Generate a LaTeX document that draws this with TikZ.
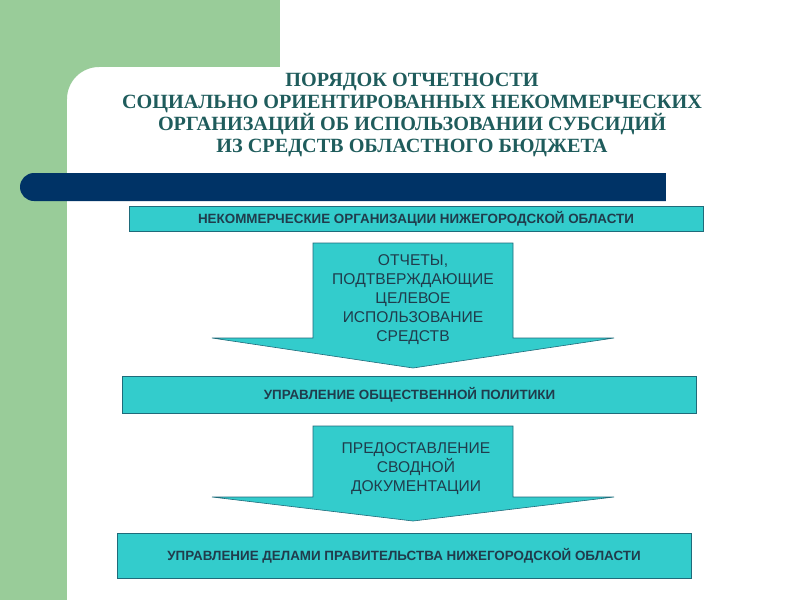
\documentclass[tikz,border=0pt]{standalone}
\usepackage{fontspec}
\setmainfont{Liberation Serif}
\setsansfont{Liberation Sans}
\definecolor{sidegreen}{HTML}{99CC99}
\definecolor{barnavy}{HTML}{003366}
\definecolor{boxcyan}{HTML}{33CCCC}
\definecolor{boxline}{HTML}{1F6B7A}
\definecolor{titleteal}{HTML}{1F5C5C}
\definecolor{textslate}{HTML}{203C4C}
\tikzstyle{box}=[rectangle, fill=boxcyan, draw=boxline, line width=0.8pt, inner sep=0pt, anchor=center, text=textslate, font=\sffamily\bfseries\fontsize{13.4}{16}\selectfont]
\tikzstyle{annot}=[align=center, text=textslate, font=\sffamily\fontsize{15.6}{19}\selectfont]
\tikzstyle{shaft}=[fill=boxcyan, draw=boxline, line width=0.6pt, line join=miter]
\newcommand{\flowarrow}[3]
{
  \draw[shaft] (313,#1) -- (513,#1) -- (513,#2) -- (614,#2) -- (413,#3) -- (212,#2) -- (313,#2) -- cycle;
}

\begin{document}
\begin{tikzpicture}[x=1pt, y=-1pt]
	\useasboundingbox (0,0) rectangle (800,600);
	\fill[white] (0,0) rectangle (800,600);

	% background
	\fill[sidegreen] (0,0) rectangle (280,67);
	\fill[sidegreen] (0,0) rectangle (67,600);
	\fill[sidegreen] (67,67) -- (67,99) .. controls (67,81.3) and (81.3,67) .. (99,67) -- cycle;
	\fill[barnavy, rounded corners=14pt] (20,173) rectangle (680,201);
	\fill[barnavy] (640,173) rectangle (666,201);
	\fill[white] (666,172) rectangle (700,202);

	\node[align=center, text=titleteal, font=\rmfamily\bfseries\fontsize{20.2}{22.3}\selectfont](title) at (412,115)
		{ПОРЯДОК ОТЧЕТНОСТИ\\СОЦИАЛЬНО ОРИЕНТИРОВАННЫХ НЕКОММЕРЧЕСКИХ\\ОРГАНИЗАЦИЙ ОБ ИСПОЛЬЗОВАНИИ СУБСИДИЙ\\ИЗ СРЕДСТВ ОБЛАСТНОГО БЮДЖЕТА};

	\node[box, minimum width=574pt, minimum height=25pt](nko) at (416,218.5){НЕКОММЕРЧЕСКИЕ ОРГАНИЗАЦИИ НИЖЕГОРОДСКОЙ ОБЛАСТИ};

	\flowarrow{243}{338}{368}
	\node[annot](reports) at (413,300){ОТЧЕТЫ,\\ПОДТВЕРЖДАЮЩИЕ\\ЦЕЛЕВОЕ\\ИСПОЛЬЗОВАНИЕ\\СРЕДСТВ};

	\node[box, minimum width=574pt, minimum height=37pt](policy) at (409.5,394.5){УПРАВЛЕНИЕ ОБЩЕСТВЕННОЙ ПОЛИТИКИ};

	\flowarrow{426}{497}{521}
	\node[annot](summary) at (416,469){ПРЕДОСТАВЛЕНИЕ\\СВОДНОЙ\\ДОКУМЕНТАЦИИ};

	\node[box, minimum width=574pt, minimum height=45pt](affairs) at (404,555.5){УПРАВЛЕНИЕ ДЕЛАМИ ПРАВИТЕЛЬСТВА НИЖЕГОРОДСКОЙ ОБЛАСТИ};

\end{tikzpicture}
\end{document}
